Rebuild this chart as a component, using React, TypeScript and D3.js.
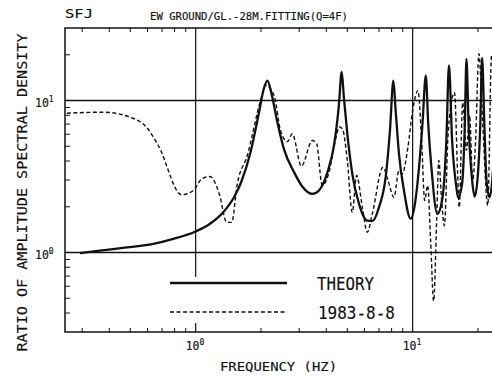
import React from "react";
import * as d3 from "d3";

// ---- data ----
const theoryFreq = [
  0.293, 0.362, 0.481, 0.638, 0.789, 0.993, 1.16, 1.34, 1.5, 1.62, 1.79, 1.96, 2.06, 2.14, 2.23, 2.38, 2.55,
  2.84, 3.1, 3.45, 3.7, 4.05, 4.34, 4.57, 4.71, 4.82, 5.0, 5.27, 5.66, 6.18, 6.52, 7.0, 7.51, 7.86, 8.15, 8.35, 8.65,
  9.12, 9.79, 10.3, 10.7, 11.1, 11.5, 11.8, 12.2, 13.0, 13.7, 14.3, 14.7, 15.2, 15.9, 16.2, 16.9, 17.4, 17.7, 18.1,
  18.8, 19.3, 20.0, 20.5, 20.9, 21.4, 21.9, 22.6, 23.4, 24.0,
];
const theoryAmp = [
  0.99, 1.03, 1.08, 1.14, 1.23, 1.37, 1.54, 1.84, 2.3, 2.9, 4.57, 8.38, 11.9, 13.5, 11.3, 7.2, 4.81,
  3.38, 2.72, 2.43, 2.56, 3.38, 5.06, 9.27, 15.4, 10.5, 6.04, 3.3, 2.09, 1.62, 1.61, 1.99, 3.13, 6.35, 13.5, 8.6, 4.46,
  2.56, 1.67, 2.2, 3.64, 7.03, 14.6, 7.0, 3.64, 1.8, 2.26, 5.46, 17.0, 5.46, 2.69, 2.3, 2.83, 7.0, 18.8, 7.0,
  2.98, 2.33, 3.3, 7.0, 19.1, 7.0, 2.98, 2.31, 3.3, 7.0,
];

const observedFreq = [
  0.255, 0.376, 0.498, 0.594, 0.673, 0.862, 0.976, 1.066, 1.164, 1.285, 1.39, 1.465, 1.556, 1.73, 1.99, 2.1, 2.3,
  2.46, 2.65, 2.79, 3.07, 3.45, 3.61, 3.83, 4.1, 4.4, 4.6, 4.75, 5.0, 5.27, 5.52, 5.86, 6.18, 6.52, 7.3, 7.7, 8.2,
  8.65, 8.96, 9.51, 10.0, 10.58, 11.0, 11.36, 11.73, 12.1, 12.5, 12.9, 13.2, 13.6, 14.0, 14.6, 15.6, 16.1, 16.4,
  17.0, 17.7, 18.3, 18.9, 19.5, 20.2, 21.0, 22.2, 23.1, 24.0,
];
const observedAmp = [
  8.25, 8.38, 7.77, 6.67, 5.06, 2.4, 2.56, 3.05, 3.16, 2.43, 1.58, 1.58, 2.83, 4.35, 10.0, 12.6, 10.8,
  6.35, 5.37, 6.04, 3.7, 5.46, 5.2, 2.76, 3.3, 5.46, 6.7, 6.5, 4.03, 1.84, 3.21, 2.0, 1.36, 1.8, 3.64, 2.98, 2.31,
  3.46, 3.3, 4.93, 8.6, 11.6, 5.46, 2.2, 2.76, 1.2, 0.48, 1.62, 4.03, 2.2, 1.5, 6.35, 11.3, 3.46, 1.98,
  9.7, 4.7, 7.97, 2.98, 5.46, 20.3, 7.4, 2.04, 19.8, 7.4,
];

const xMajor = [1, 10];
const yMajor = [1, 10];
const legendLabels = ["THEORY", "1983-8-8"];
const titleLeft = "SFJ";
const titleMain = "EW GROUND/GL.-28M.FITTING(Q=4F)";
const xTitle = "FREQUENCY (HZ)";
const yTitle = "RATIO OF AMPLITUDE SPECTRAL DENSITY";

const W = 492;
const H = 377;
const FONT = "'DejaVu Sans Mono', monospace";
const INK = "#111";

export default function App() {
  const x = d3.scaleLog().domain([0.25, 25]).range([65, 499]);
  const y = d3.scaleLog().domain([0.3, 30]).range([332, 28]);
  const [x0, x1] = x.range();
  const [yb, yt] = y.range();

  const line = d3
    .line<[number, number]>()
    .x((d) => x(d[0]))
    .y((d) => y(d[1]))
    .curve(d3.curveMonotoneX);

  const theory = line(theoryFreq.map((f, i) => [f, theoryAmp[i]] as [number, number])) || "";
  const observed = line(observedFreq.map((f, i) => [f, observedAmp[i]] as [number, number])) || "";

  const xTicks = x.ticks().filter((t) => t > 0.25 && t < 25 && !xMajor.includes(t));
  const yTicks = y.ticks().filter((t) => t > 0.3 && t < 30 && !yMajor.includes(t));

  const legendY = [283, 312];
  const textStyle = { stroke: INK, strokeWidth: 0.15 } as React.CSSProperties;

  return (
    <svg
      width={W}
      height={H}
      style={{ position: "fixed", left: 0, top: 0, background: "#fff" }}
      fontFamily={FONT}
    >
      <defs>
        <clipPath id="plot">
          <rect x={x0} y={yt} width={x1 - x0} height={yb - yt} />
        </clipPath>
      </defs>
      <rect x={0} y={0} width={W} height={H} fill="#fff" />

      {/* titles */}
      <text x={65} y={18} fontSize={12.5} fill={INK} style={textStyle} textLength={28} lengthAdjust="spacingAndGlyphs">
        {titleLeft}
      </text>
      <text x={150} y={20} fontSize={10.5} fill={INK} style={textStyle} textLength={198} lengthAdjust="spacingAndGlyphs">
        {titleMain}
      </text>

      {/* frame */}
      <rect x={x0} y={yt} width={x1 - x0} height={yb - yt} fill="none" stroke={INK} strokeWidth={1.5} />

      {/* major grid lines */}
      {yMajor.map((v) => (
        <line key={"gy" + v} x1={x0} x2={x1} y1={y(v)} y2={y(v)} stroke={INK} strokeWidth={1.3} />
      ))}
      <line x1={x(xMajor[0])} x2={x(xMajor[0])} y1={yt} y2={277} stroke={INK} strokeWidth={1.2} />
      <line x1={x(xMajor[0])} x2={x(xMajor[0])} y1={yb} y2={yb - 9} stroke={INK} strokeWidth={1.2} />
      <line x1={x(xMajor[1])} x2={x(xMajor[1])} y1={yt} y2={yb} stroke={INK} strokeWidth={1.2} />

      {/* minor ticks */}
      {xTicks.map((t) => (
        <g key={"xt" + t}>
          <line x1={x(t)} x2={x(t)} y1={yb} y2={yb - 4} stroke={INK} strokeWidth={1} />
          <line x1={x(t)} x2={x(t)} y1={yt} y2={yt + 4} stroke={INK} strokeWidth={1} />
        </g>
      ))}
      {yTicks.map((t) => (
        <line key={"yt" + t} x1={x0} x2={x0 + 5} y1={y(t)} y2={y(t)} stroke={INK} strokeWidth={1} />
      ))}

      {/* tick labels */}
      {xMajor.map((v) => {
        const e = Math.round(Math.log10(v));
        return (
          <text key={"xl" + v} x={x(v) - 10} y={350} fontSize={11.5} fill={INK} style={textStyle}>
            <tspan>10</tspan>
            <tspan dy={-5} fontSize={8}>
              {e}
            </tspan>
          </text>
        );
      })}
      {yMajor.map((v) => {
        const e = Math.round(Math.log10(v));
        return (
          <text key={"yl" + v} x={35} y={y(v) + 6} fontSize={11.5} fill={INK} style={textStyle}>
            <tspan>10</tspan>
            <tspan dy={-5} fontSize={8}>
              {e}
            </tspan>
          </text>
        );
      })}

      {/* axis titles */}
      <text x={220} y={371} fontSize={12} fill={INK} style={textStyle} textLength={117} lengthAdjust="spacingAndGlyphs">
        {xTitle}
      </text>
      <text
        transform={`translate(26.5,192.5) rotate(-90)`}
        textAnchor="middle"
        fontSize={13.5}
        fill={INK}
        style={textStyle}
        textLength={318}
        lengthAdjust="spacingAndGlyphs"
      >
        {yTitle}
      </text>

      {/* data */}
      <g clipPath="url(#plot)">
        <path d={observed} fill="none" stroke={INK} strokeWidth={1.4} strokeDasharray="4 2.5" />
        <path d={theory} fill="none" stroke={INK} strokeWidth={2.3} strokeLinejoin="round" />
      </g>

      {/* legend */}
      <line x1={170} x2={287} y1={legendY[0]} y2={legendY[0]} stroke={INK} strokeWidth={2.3} />
      <line x1={170} x2={287} y1={legendY[1]} y2={legendY[1]} stroke={INK} strokeWidth={1.4} strokeDasharray="4 2.5" />
      <text x={317} y={legendY[0] + 7} fontSize={17} fill={INK} style={textStyle} textLength={57} lengthAdjust="spacingAndGlyphs">
        {legendLabels[0]}
      </text>
      <text x={318} y={legendY[1] + 7} fontSize={17} fill={INK} style={textStyle} textLength={77} lengthAdjust="spacingAndGlyphs">
        {legendLabels[1]}
      </text>
    </svg>
  );
}
